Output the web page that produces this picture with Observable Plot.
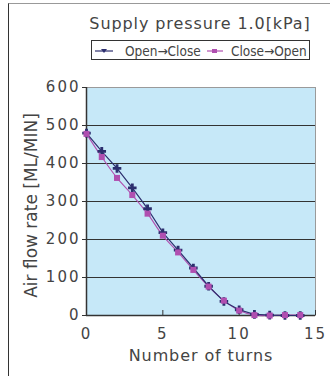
<!DOCTYPE html>
<html>
<head>
<meta charset="utf-8">
<script src="https://cdn.jsdelivr.net/npm/d3@7"></script>
<script src="https://cdn.jsdelivr.net/npm/@observablehq/plot@0.6"></script>
<style>
  html, body { margin: 0; padding: 0; background: #fff; }
  #wrap { position: relative; width: 330px; height: 376px; overflow: hidden; font-family: "DejaVu Sans", sans-serif; color: #444; }
  #frameLines { position: absolute; left: 8px; top: 3px; width: 330px; height: 380px; border-left: 1.5px solid #333; border-top: 1.5px solid #999; box-sizing: border-box; }
  #title { position: absolute; left: 80px; top: 14px; width: 240px; text-align: center; font-size: 16px; letter-spacing: 0.9px; white-space: nowrap; color: #444; }
  #legend { position: absolute; left: 91px; top: 40px; width: 219px; height: 20px; border: 1px solid #333; box-sizing: border-box; background: #fff;
            font-family: "Liberation Sans Narrow", "DejaVu Sans Condensed", sans-serif; font-stretch: condensed; font-size: 13.5px; color: #444; }
  #legend .item { position: absolute; top: 1px; display: flex; align-items: center; height: 17px; white-space: nowrap; }
  #chart { position: absolute; left: 0; top: 0; }
  #chart svg [aria-label="y-axis tick label"] text, #chart svg [aria-label="x-axis tick label"] text { letter-spacing: 2px; }
  #chart svg .xlab text { letter-spacing: 0.9px; }
</style>
</head>
<body>
<div id="wrap">
  <div id="chart"></div>
  <div id="frameLines"></div>
  <div id="title"></div>
  <div id="legend"></div>
</div>
<script>
// ---- data ----
const turns = [0, 1, 2, 3, 4, 5, 6, 7, 8, 9, 10, 11, 12, 13, 14];
const openClose = [480, 432, 387, 336, 281, 218, 172, 125, 77, 37, 15, 3, 1, 0, 0];
const closeOpen = [478, 417, 362, 317, 268, 210, 166, 120, 76, 39, 13, 1, 0, 1, 1];
const seriesNames = ["Open→Close", "Close→Open"];
const seriesColors = ["#2c2e6e", "#b04fb0"];
const xTicks = [0, 5, 10, 15];
const yTicks = [0, 100, 200, 300, 400, 500, 600];
const titleText = "Supply pressure 1.0[kPa]";
const xLabel = "Number of turns";
const yLabel = "Air flow rate [ML/MIN]";

const rows = [];
turns.forEach((t, i) => rows.push({turns: t, flow: openClose[i], series: seriesNames[0]}));
turns.forEach((t, i) => rows.push({turns: t, flow: closeOpen[i], series: seriesNames[1]}));
const s0 = rows.filter(d => d.series === seriesNames[0]);
const s1 = rows.filter(d => d.series === seriesNames[1]);

const chart = Plot.plot({
  width: 330,
  height: 376,
  marginLeft: 86,
  marginRight: 15,
  marginTop: 87,
  marginBottom: 61,
  style: {fontFamily: "DejaVu Sans, sans-serif", fontSize: "14px", color: "#444", background: "transparent"},
  x: {domain: [0, 15]},
  y: {domain: [0, 600]},
  marks: [
    Plot.frame({fill: "#c6e8f8", stroke: "#9a9a9a"}),
    Plot.gridY(yTicks.slice(1, -1), {stroke: "#333", strokeOpacity: 1, strokeWidth: 1.2}),
    Plot.ruleX([0], {stroke: "#333", strokeWidth: 1.5}),
    Plot.ruleY([0], {stroke: "#333", strokeWidth: 1.5}),
    Plot.axisY(yTicks, {tickSize: 4, tickPadding: 2, label: null, stroke: "#333", fontSize: 15}),
    Plot.axisX(xTicks, {tickSize: -5, tickPadding: 18, label: null, stroke: "#333", fontSize: 15}),
    Plot.line(s1, {x: "turns", y: "flow", stroke: seriesColors[1], strokeWidth: 1.1, curve: "catmull-rom"}),
    Plot.line(s0, {x: "turns", y: "flow", stroke: seriesColors[0], strokeWidth: 1.2}),
    Plot.dot(s0, {x: "turns", y: "flow", symbol: "cross", r: 3.6, fill: seriesColors[0], stroke: null}),
    Plot.dot(s1, {x: "turns", y: "flow", symbol: "square", r: 3.4, fill: seriesColors[1], stroke: null}),
    Plot.text([yLabel], {frameAnchor: "left", textAnchor: "middle", rotate: -90, dx: -55, dy: 4, fontSize: 17, fill: "#444"}),
    Plot.text([xLabel], {frameAnchor: "bottom", dy: 45, fontSize: 16, fill: "#444", className: "xlab"})
  ]
});
document.getElementById("chart").appendChild(chart);

document.getElementById("title").textContent = titleText;

// legend
const legend = document.getElementById("legend");
const lefts = [3, 115];
const gaps = [12, 8];
const markerSvgs = [
  `<svg width="18" height="10"><line x1="0" y1="5" x2="18" y2="5" stroke="${seriesColors[0]}" stroke-width="1.2"/><path d="M6,3 L12,3 L9,7 Z" fill="${seriesColors[0]}"/></svg>`,
  `<svg width="16" height="10"><line x1="0" y1="5" x2="16" y2="5" stroke="${seriesColors[1]}" stroke-width="1.2"/><rect x="5" y="3" width="5" height="4" fill="${seriesColors[1]}"/></svg>`
];
seriesNames.forEach((name, i) => {
  const item = document.createElement("div");
  item.className = "item";
  item.style.left = lefts[i] + "px";
  item.innerHTML = markerSvgs[i] + `<span style="margin-left:${gaps[i]}px">${name}</span>`;
  legend.appendChild(item);
});
</script>
</body>
</html>
